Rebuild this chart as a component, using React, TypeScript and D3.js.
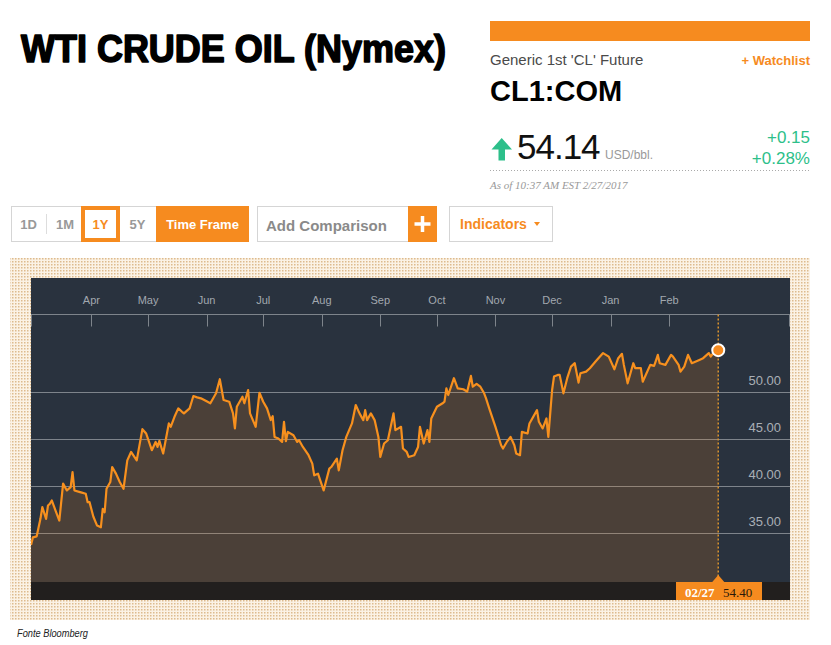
import React from 'react';
import * as d3 from 'd3';

const dates = [
  '2016-02-29','2016-03-01','2016-03-03','2016-03-05','2016-03-06','2016-03-08','2016-03-09','2016-03-10','2016-03-11','2016-03-13',
  '2016-03-15','2016-03-17','2016-03-19','2016-03-21','2016-03-22','2016-03-23','2016-03-26','2016-03-29','2016-03-30','2016-03-31',
  '2016-04-02','2016-04-04','2016-04-06','2016-04-07','2016-04-08','2016-04-09','2016-04-11','2016-04-12','2016-04-14','2016-04-16',
  '2016-04-18','2016-04-20','2016-04-22','2016-04-25','2016-04-28','2016-04-30','2016-05-03','2016-05-05','2016-05-06','2016-05-07',
  '2016-05-09','2016-05-11','2016-05-12','2016-05-13','2016-05-15','2016-05-17','2016-05-19','2016-05-20','2016-05-23','2016-05-25',
  '2016-05-27','2016-05-29','2016-06-03','2016-06-06','2016-06-08','2016-06-10','2016-06-13','2016-06-15','2016-06-16','2016-06-17',
  '2016-06-20','2016-06-21','2016-06-23','2016-06-24','2016-06-27','2016-06-29','2016-07-01','2016-07-03','2016-07-05','2016-07-06',
  '2016-07-07','2016-07-09','2016-07-11','2016-07-12','2016-07-13','2016-07-14','2016-07-17','2016-07-19','2016-07-20','2016-07-22',
  '2016-07-25','2016-07-27','2016-07-28','2016-07-30','2016-08-02','2016-08-05','2016-08-06','2016-08-09','2016-08-10','2016-08-12',
  '2016-08-14','2016-08-17','2016-08-19','2016-08-21','2016-08-23','2016-08-24','2016-08-25','2016-08-27','2016-08-29','2016-08-31',
  '2016-09-01','2016-09-03','2016-09-05','2016-09-08','2016-09-09','2016-09-12','2016-09-13','2016-09-15','2016-09-16','2016-09-19',
  '2016-09-21','2016-09-22','2016-09-24','2016-09-26','2016-09-27','2016-09-28','2016-10-01','2016-10-04','2016-10-05','2016-10-06',
  '2016-10-07','2016-10-10','2016-10-12','2016-10-15','2016-10-17','2016-10-19','2016-10-20','2016-10-22','2016-10-24','2016-10-26',
  '2016-10-27','2016-10-29','2016-11-01','2016-11-04','2016-11-05','2016-11-07','2016-11-09','2016-11-11','2016-11-12','2016-11-14',
  '2016-11-15','2016-11-18','2016-11-19','2016-11-23','2016-11-24','2016-11-26','2016-11-28','2016-11-29','2016-12-01','2016-12-02',
  '2016-12-04','2016-12-05','2016-12-07','2016-12-09','2016-12-11','2016-12-13','2016-12-15','2016-12-16','2016-12-19','2016-12-21',
  '2016-12-24','2016-12-28','2016-12-31','2017-01-03','2017-01-05','2017-01-07','2017-01-08','2017-01-10','2017-01-13','2017-01-14',
  '2017-01-17','2017-01-18','2017-01-20','2017-01-22','2017-01-24','2017-01-25','2017-01-26','2017-01-27','2017-01-30','2017-02-02',
  '2017-02-03','2017-02-06','2017-02-07','2017-02-09','2017-02-11','2017-02-13','2017-02-17','2017-02-19','2017-02-22','2017-02-23',
  '2017-02-25','2017-02-27',
];

const prices = [
  33.77,34.57,34.68,36.53,37.77,36.53,37.95,38.13,38.48,37.41,
  36.35,40.26,39.54,39.89,41.49,39.54,39.36,39.19,38.30,38.30,
  36.78,35.82,35.64,37.60,37.23,39.72,40.43,42.02,41.32,40.43,
  39.72,42.73,43.62,42.73,46.03,45.57,43.80,44.68,44.15,44.79,
  43.45,45.57,46.64,46.28,47.34,48.23,47.87,47.70,48.23,49.54,
  49.40,49.30,48.77,49.83,51.32,49.12,48.94,47.70,46.11,48.40,
  49.47,48.77,50.18,47.70,46.28,49.89,48.94,48.23,46.99,47.41,
  45.21,45.04,44.68,46.81,44.76,45.74,45.39,44.68,44.86,44.15,
  43.27,42.38,41.14,41.32,39.54,41.85,42.02,42.91,41.67,43.80,
  45.21,46.64,48.59,47.70,46.99,48.05,46.99,47.70,46.99,45.21,
  43.09,44.51,44.86,47.70,45.93,46.28,43.98,43.62,43.09,43.27,
  44.15,46.28,44.51,45.93,44.68,47.17,48.40,48.77,48.94,50.36,
  49.65,51.43,50.36,50.26,50.00,51.67,50.53,50.82,50.53,49.83,
  49.30,48.05,46.28,44.33,43.98,44.68,45.21,44.33,43.45,43.27,
  45.74,45.57,46.64,48.05,46.81,46.11,47.17,45.21,50.18,51.60,
  51.78,51.78,49.83,51.43,52.66,53.02,50.96,51.96,52.13,52.49,
  53.19,54.09,53.72,52.38,53.55,54.01,52.84,50.89,53.02,52.49,
  52.49,51.06,51.96,52.84,52.73,53.30,53.90,53.02,52.84,53.90,
  53.72,52.84,52.13,52.66,53.90,53.02,53.37,53.55,54.09,53.72,
  54.26,54.40,
];

const yTicks = [35, 40, 45, 50];
const lastLabelDate = '02/27';
const lastLabelValue = '54.40';
const quotePrice = '54.14';
const quoteChange = '+0.15';
const quoteChangePct = '+0.28%';

const ORANGE = '#f68b1f';
const GREEN = '#2dbf8a';
const SANS = '"Liberation Sans", Arial, Helvetica, sans-serif';
const SERIF = '"Liberation Serif", "Times New Roman", serif';

export default function App() {
  const parse = d3.timeParse('%Y-%m-%d');
  const data = dates.map((d, i) => ({ date: parse(d) as Date, value: prices[i] }));

  const plot = { left: 31, right: 790, top: 278, bottom: 600, areaBottom: 582 };
  const x = d3.scaleTime()
    .domain([new Date(2016, 1, 29), new Date(2017, 3, 6)])
    .range([plot.left, plot.right]);
  const y = d3.scaleLinear().domain([30, 55]).range([580.5, 344.5]);

  const line = d3.line<{ date: Date; value: number }>()
    .x(d => x(d.date))
    .y(d => y(d.value));
  const area = d3.area<{ date: Date; value: number }>()
    .x(d => x(d.date))
    .y0(plot.areaBottom)
    .y1(d => y(d.value));

  const months = d3.timeMonth.range(new Date(2016, 3, 1), new Date(2017, 2, 1));
  const fmt = d3.timeFormat('%b');
  const last = data[data.length - 1];
  const lx = x(last.date);
  const ly = y(last.value);
  const axisY = 314.5;

  return (
    <div style={{ position: 'fixed', left: 0, top: 0 }}>
      <svg width={831} height={645} style={{ display: 'block', background: '#fff' }}>
        <defs>
          <pattern id="dots" width="3" height="3" patternUnits="userSpaceOnUse">
            <rect width="3" height="3" fill="#fbf2e5" />
            <rect width="1.5" height="1.5" fill="#ddbb8e" />
          </pattern>
          <clipPath id="plotclip">
            <rect x={plot.left} y={plot.top} width={plot.right - plot.left} height={plot.bottom - plot.top} />
          </clipPath>
        </defs>

        {/* Title */}
        <text x={21} y={62} fontFamily={SANS} fontWeight="bold" fontSize={38} fill="#000" stroke="#000" strokeWidth={1.6}
          strokeLinejoin="round" textLength={425} lengthAdjust="spacingAndGlyphs">WTI CRUDE OIL (Nymex)</text>

        {/* Quote panel */}
        <rect x={490} y={21} width={320} height={20} fill={ORANGE} />
        <text x={490} y={65} fontFamily={SANS} fontSize={15} fill="#4a4a4a">Generic 1st 'CL' Future</text>
        <text x={810} y={65} textAnchor="end" fontFamily={SANS} fontWeight="bold" fontSize={13} fill={ORANGE}>+ Watchlist</text>
        <text x={490} y={101} fontFamily={SANS} fontWeight="bold" fontSize={29} fill="#000">CL1:COM</text>
        <path d="M491.5,149.5 L501.7,138 L512,149.5 L505,149.5 L505,160.5 L498.5,160.5 L498.5,149.5 Z" fill={GREEN} />
        <text x={517} y={159} fontFamily={SANS} fontSize={35} fill="#111" letterSpacing={-1}>{quotePrice}</text>
        <text x={605} y={159} fontFamily={SANS} fontSize={12} fill="#999">USD/bbl.</text>
        <text x={810} y={143} textAnchor="end" fontFamily={SANS} fontSize={17} fill={GREEN}>{quoteChange}</text>
        <text x={810} y={164} textAnchor="end" fontFamily={SANS} fontSize={17} fill={GREEN}>{quoteChangePct}</text>
        <line x1={490} x2={810} y1={170.5} y2={170.5} stroke="#aaa" strokeDasharray="1,2" />
        <text x={490} y={189} fontFamily={SERIF} fontStyle="italic" fontSize={11} fill="#999">As of 10:37 AM EST 2/27/2017</text>

        {/* Buttons row */}
        <rect x={11.5} y={206.5} width={237} height={35} fill="#fff" stroke="#d5d5d5" />
        <text x={28.5} y={229} textAnchor="middle" fontFamily={SANS} fontWeight="bold" fontSize={13} fill="#999">1D</text>
        <line x1={46.5} x2={46.5} y1={214} y2={234} stroke="#ddd" />
        <text x={65} y={229} textAnchor="middle" fontFamily={SANS} fontWeight="bold" fontSize={13} fill="#999">1M</text>
        <rect x={83} y={208} width={35} height={32} fill="#fff" stroke={ORANGE} strokeWidth={4} />
        <text x={100.5} y={229} textAnchor="middle" fontFamily={SANS} fontWeight="bold" fontSize={13} fill={ORANGE}>1Y</text>
        <text x={137.5} y={229} textAnchor="middle" fontFamily={SANS} fontWeight="bold" fontSize={13} fill="#999">5Y</text>
        <rect x={156} y={206} width={93} height={36} fill={ORANGE} />
        <text x={202.5} y={229} textAnchor="middle" fontFamily={SANS} fontWeight="bold" fontSize={13} fill="#fff">Time Frame</text>

        <rect x={257.5} y={206.5} width={151} height={35} fill="#fff" stroke="#d5d5d5" />
        <text x={266} y={231} fontFamily={SANS} fontWeight="bold" fontSize={15} fill="#8a8a8a">Add Comparison</text>
        <rect x={408} y={206} width={29} height={36} fill={ORANGE} />
        <path d="M422.5,216 L422.5,232 M414.5,224 L430.5,224" stroke="#fff" strokeWidth={3.5} />

        <rect x={449.5} y={206.5} width={103} height={35} fill="#fff" stroke="#d5d5d5" />
        <text x={460} y={229} fontFamily={SANS} fontWeight="bold" fontSize={14} fill={ORANGE}>Indicators</text>
        <path d="M534,222 L540,222 L537,226 Z" fill={ORANGE} />

        {/* Chart frame */}
        <rect x={10} y={258} width={800} height={362} fill="url(#dots)" />
        <rect x={plot.left} y={plot.top} width={plot.right - plot.left} height={plot.bottom - plot.top} fill="#29323e" />
        <rect x={plot.left} y={plot.areaBottom} width={plot.right - plot.left} height={plot.bottom - plot.areaBottom} fill="#221f1e" />

        {/* grid */}
        {yTicks.map(t => (
          <g key={t}>
            <line x1={plot.left} x2={plot.right} y1={Math.round(y(t)) + 0.5} y2={Math.round(y(t)) + 0.5} stroke="#7e848b" strokeWidth={1} />
            <text x={781} y={y(t) - 7} textAnchor="end" fontFamily={SANS} fontSize={13} fill="#a9afb6">{t.toFixed(2)}</text>
          </g>
        ))}

        {/* month axis */}
        <line x1={plot.left} x2={plot.right} y1={axisY} y2={axisY} stroke="#7e848b" />
        <line x1={plot.left + 0.5} x2={plot.left + 0.5} y1={axisY} y2={axisY + 12} stroke="#7e848b" />
        <line x1={plot.right - 0.5} x2={plot.right - 0.5} y1={axisY} y2={axisY + 12} stroke="#7e848b" />
        {months.map(m => (
          <g key={m.toISOString()}>
            <line x1={Math.round(x(m)) + 0.5} x2={Math.round(x(m)) + 0.5} y1={axisY} y2={axisY + 12} stroke="#7e848b" />
            <text x={x(m)} y={304} textAnchor="middle" fontFamily={SANS} fontSize={11} fill="#a2a8af">{fmt(m)}</text>
          </g>
        ))}

        {/* area + line */}
        <g clipPath="url(#plotclip)">
          <path d={area(data) || ''} fill={ORANGE} fillOpacity={0.17} />
          <path d={line(data) || ''} fill="none" stroke="#f7901e" strokeWidth={2.2} strokeLinejoin="round" />
        </g>

        {/* last value marker */}
        <line x1={lx} x2={lx} y1={axisY} y2={plot.areaBottom} stroke="#d9922e" strokeWidth={1.5} strokeDasharray="2,2" />
        <circle cx={lx} cy={ly} r={6} fill={ORANGE} stroke="#fff" strokeWidth={2} />
        <rect x={676} y={plot.areaBottom} width={86} height={18} fill={ORANGE} />
        <path d={`M${lx - 6},${plot.areaBottom} L${lx},${plot.areaBottom - 7} L${lx + 6},${plot.areaBottom} Z`} fill={ORANGE} />
        <text x={685} y={597} fontFamily={SERIF} fontWeight="bold" fontSize={13} fill="#fff">{lastLabelDate}</text>
        <text x={723} y={597} fontFamily={SERIF} fontSize={13} fill="#2a1a0a">{lastLabelValue}</text>

        {/* source */}
        <text x={17} y={637} fontFamily={SANS} fontStyle="italic" fontSize={11} fill="#222" textLength={71} lengthAdjust="spacingAndGlyphs">Fonte Bloomberg</text>
      </svg>
    </div>
  );
}
